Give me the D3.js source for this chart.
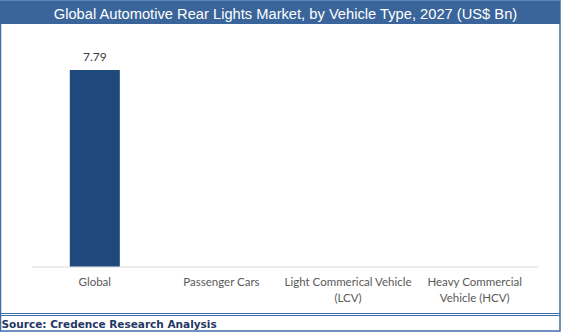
<!DOCTYPE html>
<html><head><meta charset="utf-8">
<script src="https://cdn.jsdelivr.net/npm/d3@7"></script>
<style>html,body{margin:0;padding:0;background:#fff;}svg{display:block;}</style>
</head><body>
<script>
const categories = ["Global", "Passenger Cars", "Light Commerical Vehicle (LCV)", "Heavy Commercial Vehicle (HCV)"];
const labelLines = [["Global"], ["Passenger Cars"], ["Light Commerical Vehicle", "(LCV)"], ["Heavy Commercial", "Vehicle (HCV)"]];
const values = [7.79, null, null, null];
const title = "Global Automotive Rear Lights Market, by Vehicle Type, 2027 (US$ Bn)";
const source = "Source: Credence Research Analysis";

const W = 561, H = 332;
const svg = d3.select("body").append("svg").attr("width", W).attr("height", H);

// frame
svg.append("rect").attr("x", 0.5).attr("y", 0.5).attr("width", W - 1.5).attr("height", H - 1.5)
  .attr("fill", "#fff").attr("stroke", "#3E6EA6").attr("stroke-width", 1.5);
svg.append("rect").attr("x", 0).attr("y", 0).attr("width", W - 1).attr("height", 24).attr("fill", "#3A659B");
svg.append("line").attr("x1", 0).attr("x2", W - 1).attr("y1", 0.5).attr("y2", 0.5).attr("stroke", "#5D86B8");
svg.append("text").attr("x", 285.5).attr("y", 18.5).attr("text-anchor", "middle")
  .attr("font-family", "'Liberation Sans', Arial, sans-serif").attr("font-size", 14.7)
  .attr("fill", "#fff").text(title);

// double line at bottom
svg.append("line").attr("x1", 0).attr("x2", W - 1).attr("y1", 313.5).attr("y2", 313.5).attr("stroke", "#3E6EA6").attr("stroke-width", 1);
svg.append("line").attr("x1", 0).attr("x2", W - 1).attr("y1", 315.5).attr("y2", 315.5).attr("stroke", "#3E6EA6").attr("stroke-width", 1);
svg.append("text").attr("x", 1.5).attr("y", 327.5)
  .attr("font-family", "'DejaVu Sans', Verdana, sans-serif").attr("font-weight", "bold").attr("font-size", 10.5)
  .attr("fill", "#1F3864").text(source);

const x = d3.scaleBand().domain(categories).range([31.5, 538]).paddingInner(0.605).paddingOuter(0.3025);
const y = d3.scaleLinear().domain([0, 9]).range([266.5, 39.5]);

// axis
const xAxis = d3.axisBottom(x).tickSize(0).tickFormat("");
const ag = svg.append("g").attr("transform", "translate(0,266.5)").call(xAxis);
ag.select(".domain").attr("stroke", "#D9D9D9").attr("stroke-width", 1);

const data = categories.map((c, i) => ({c, v: values[i], lines: labelLines[i]}));

svg.selectAll("rect.bar").data(data.filter(d => d.v != null)).enter().append("rect")
  .attr("class", "bar")
  .attr("x", d => x(d.c)).attr("width", x.bandwidth())
  .attr("y", d => y(d.v)).attr("height", d => y(0) - y(d.v))
  .attr("fill", "#1F497D");

svg.selectAll("text.val").data(data.filter(d => d.v != null)).enter().append("text")
  .attr("class", "val")
  .attr("x", d => x(d.c) + x.bandwidth() / 2).attr("y", d => y(d.v) - 9)
  .attr("text-anchor", "middle").attr("font-family", "Lato, 'Open Sans', sans-serif")
  .attr("font-size", 12).attr("fill", "#404040").text(d => d.v.toFixed(2));

const lg = svg.selectAll("text.cat").data(data).enter().append("text")
  .attr("class", "cat").attr("text-anchor", "middle")
  .attr("font-family", "Lato, 'Open Sans', sans-serif").attr("font-size", 11.5).attr("fill", "#595959");
lg.selectAll("tspan").data(d => d.lines.map(l => ({l, cx: x(d.c) + x.bandwidth() / 2}))).enter().append("tspan")
  .attr("x", d => d.cx).attr("y", (d, i) => 286 + i * 15.5).text(d => d.l);
</script>
</body></html>
